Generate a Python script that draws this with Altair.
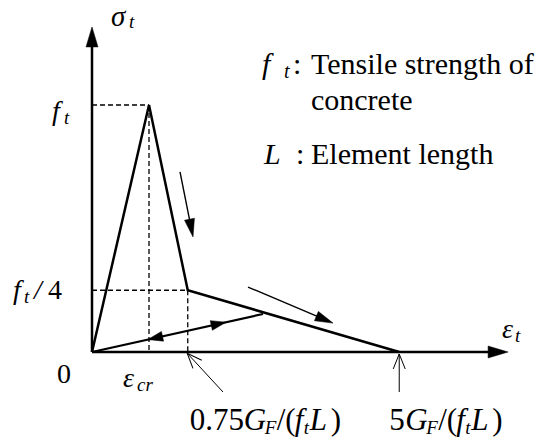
import math
import altair as alt
import pandas as pd

# ---------------- data (strain in units of eps_cr, stress in units of f_t) ----------------
curve_strain = [0.0, 1.0, 1.68, 5.39]
curve_stress = [0.0, 1.0, 0.25, 0.0]
unload_strain = [0.0, 3.0]
unload_stress = [0.0, 0.154]
axis_strain_max = 7.3
axis_stress_max = 1.316
peak_strain, peak_stress = 1.0, 1.0
knee_strain, knee_stress = 1.68, 0.25
end_strain = 5.39

# ---------------- layout ----------------
W, H = 552, 443
PX0, PY0 = 92, 352        # origin pixel
SX, SY = 57.0, 247.0      # pixels per unit
xdom = [-PX0 / SX, (W - PX0) / SX]
ydom = [-(H - PY0) / SY, PY0 / SY]
FONT = "'Times New Roman', 'Liberation Serif', 'DejaVu Serif', serif"

xs = alt.Scale(domain=xdom, nice=False, zero=False)
ys = alt.Scale(domain=ydom, nice=False, zero=False)


def px(x, y):
    return (PX0 + SX * x, PY0 - SY * y)


def ang(x0, y0, x1, y1):
    a0, a1 = px(x0, y0), px(x1, y1)
    return math.degrees(math.atan2(a1[0] - a0[0], -(a1[1] - a0[1]))) % 360


def X(f="x"):
    return alt.X(f"{f}:Q", scale=xs, axis=None)


def Y(f="y"):
    return alt.Y(f"{f}:Q", scale=ys, axis=None)


def seg(x0, y0, x1, y1, width=1.0, dash=None):
    df = pd.DataFrame({"x": [x0], "y": [y0], "x2": [x1], "y2": [y1]})
    kw = dict(color="black", strokeWidth=width)
    if dash:
        kw["strokeDash"] = dash
    return alt.Chart(df).mark_rule(**kw).encode(
        x=X(), y=Y(), x2=alt.X2("x2"), y2=alt.Y2("y2"))


def head(xt, yt, angle, path, size, filled=True, width=1.0):
    df = pd.DataFrame({"x": [xt], "y": [yt], "a": [angle]})
    kw = dict(shape=path, size=size, opacity=1, filled=filled)
    if filled:
        kw.update(fill="black", stroke="black", strokeWidth=0.5)
    else:
        kw.update(stroke="black", strokeWidth=width)
    return alt.Chart(df).mark_point(**kw).encode(
        x=X(), y=Y(), angle=alt.Angle("a:Q", scale=None))


def arrow(x0, y0, x1, y1, width, path, size, filled=True, back=0.0):
    a = ang(x0, y0, x1, y1)
    p0, p1 = px(x0, y0), px(x1, y1)
    L = math.hypot(p1[0] - p0[0], p1[1] - p0[1])
    f = (L - back) / L
    xe, ye = x0 + (x1 - x0) * f, y0 + (y1 - y0) * f
    return [seg(x0, y0, xe, ye, width), head(x1, y1, a, path, size, filled, width)]


def txt(text, anchor, dx, dy, size, italic=False, align="left"):
    df = pd.DataFrame({"x": [anchor[0]], "y": [anchor[1]], "t": [text]})
    kw = dict(font=FONT, fontSize=size, align=align, baseline="alphabetic",
              dx=dx, dy=dy, color="black")
    if italic:
        kw["fontStyle"] = "italic"
    return alt.Chart(df).mark_text(**kw).encode(x=X(), y=Y(), text="t:N")


BIG_HEAD = "M0,0L-0.3,1L0.3,1Z"
MID_HEAD = "M0,0L-0.28,1L0.28,1Z"
SMALL_HEAD = "M0,0L-0.33,1L0.33,1Z"
OPEN_HEAD = "M-0.4,1L0,0L0.4,1"

layers = []

# dashed guide lines
layers += [
    seg(0, peak_stress, peak_strain, peak_stress, 1.3, [5, 3]),
    seg(peak_strain, peak_stress, peak_strain, 0, 1.3, [5, 3]),
    seg(0, knee_stress, knee_strain, knee_stress, 1.3, [5, 3]),
    seg(knee_strain, knee_stress, knee_strain, 0, 1.3, [5, 3]),
]

# axes with arrowheads
layers += [
    seg(0, 0, 0, axis_stress_max - 16 / SY, 2.5),
    head(0, axis_stress_max, 0, BIG_HEAD, 1600),
    seg(0, 0, axis_strain_max - 16 / SX, 0, 2.5),
    head(axis_strain_max, 0, 90, BIG_HEAD, 1600),
]

# main curve
curve_df = pd.DataFrame({"x": curve_strain, "y": curve_stress, "o": list(range(len(curve_strain)))})
layers.append(alt.Chart(curve_df).mark_line(color="black", strokeWidth=2.5, strokeJoin="miter").encode(
    x=X(), y=Y(), order="o:Q"))

# unloading / reloading line with two heads
un_df = pd.DataFrame({"x": unload_strain, "y": unload_stress, "o": [0, 1]})
layers.append(alt.Chart(un_df).mark_line(color="black", strokeWidth=2.2).encode(
    x=X(), y=Y(), order="o:Q"))
uslope = unload_stress[1] / unload_strain[1]
layers.append(head(0.98, 0.98 * uslope, ang(3.0, 0.154, 0, 0), SMALL_HEAD, 900))
layers.append(head(2.35, 2.35 * uslope, ang(0, 0, 3.0, 0.154), SMALL_HEAD, 900))

# direction arrows along the softening branch
layers += arrow(1.544, 0.729, 1.772, 0.466, 1.4, MID_HEAD, 1296, back=10)
layers += arrow(2.737, 0.263, 4.228, 0.117, 1.4, MID_HEAD, 1296, back=10)

# open pointer arrows to the axis
layers += arrow(2.298, -0.162, 1.67, -0.005, 1.0, OPEN_HEAD, 900, filled=False)
layers += arrow(end_strain, -0.162, end_strain, -0.008, 1.0, OPEN_HEAD, 900, filled=False)

# ---------------- text ----------------
FS, SUB = 28, 19
O = (0, 0)
ECR = (peak_strain, 0)
FT = (0, peak_stress)
FT4 = (0, knee_stress)
YTIP = (0, axis_stress_max)
XTIP = (axis_strain_max, 0)
KNEE = (knee_strain, 0)
END = (end_strain, 0)
LEG = (3.842, 1.1255)

layers += [
    txt("0", O, -28, 31, FS, align="center"),
    txt("ε", ECR, -26, 35, FS, True),
    txt("cr", ECR, -12, 39, SUB, True),
    txt("f", FT, -40, 15, FS, True),
    txt("t", FT, -28, 19, SUB, True),
    txt("f", FT4, -79, 9, FS, True),
    txt("t", FT4, -68, 13, SUB, True),
    txt("/", FT4, -58, 9, FS, True),
    txt("4", FT4, -44, 9, FS),
    txt("σ", YTIP, 19, -1, 29, True),
    txt("t", YTIP, 37, 1, SUB, True),
    txt("ε", XTIP, -6, -14, FS, True),
    txt("t", XTIP, 7, -10, SUB, True),
]

BF, BS = 31, 19
layers += [
    txt("0.75", KNEE, 2, 78, BF),
    txt("G", KNEE, 56, 78, BF, True),
    txt("F", KNEE, 77, 82, BS, True),
    txt("/(", KNEE, 89, 78, BF),
    txt("f", KNEE, 107, 78, BF, True),
    txt("t", KNEE, 116, 82, BS, True),
    txt("L", KNEE, 122, 78, BF, True),
    txt(")", KNEE, 143, 78, BF),
    txt("5", END, -10, 78, BF),
    txt("G", END, 6, 78, BF, True),
    txt("F", END, 27, 82, BS, True),
    txt("/(", END, 39, 78, BF),
    txt("f", END, 57, 78, BF, True),
    txt("t", END, 66, 82, BS, True),
    txt("L", END, 72, 78, BF, True),
    txt(")", END, 93, 78, BF),
]

LF = 30
layers += [
    txt("f", LEG, -49, 0, LF, True),
    txt("t", LEG, -27, 4, 20, True),
    txt(":", LEG, -18, 0, LF),
    txt("Tensile strength of", LEG, 0, 0, LF),
    txt("concrete", LEG, 0, 36, LF),
    txt("L", LEG, -47, 90, LF, True),
    txt(":", LEG, -15, 90, LF),
    txt("Element length", LEG, 0, 90, LF),
]

chart = alt.layer(*layers).properties(
    width=W, height=H, autosize=alt.AutoSizeParams(type="none"), padding=0,
    background="white",
).configure_view(stroke=None)

chart.save("out.html", embed_options={"renderer": "svg", "actions": False})
